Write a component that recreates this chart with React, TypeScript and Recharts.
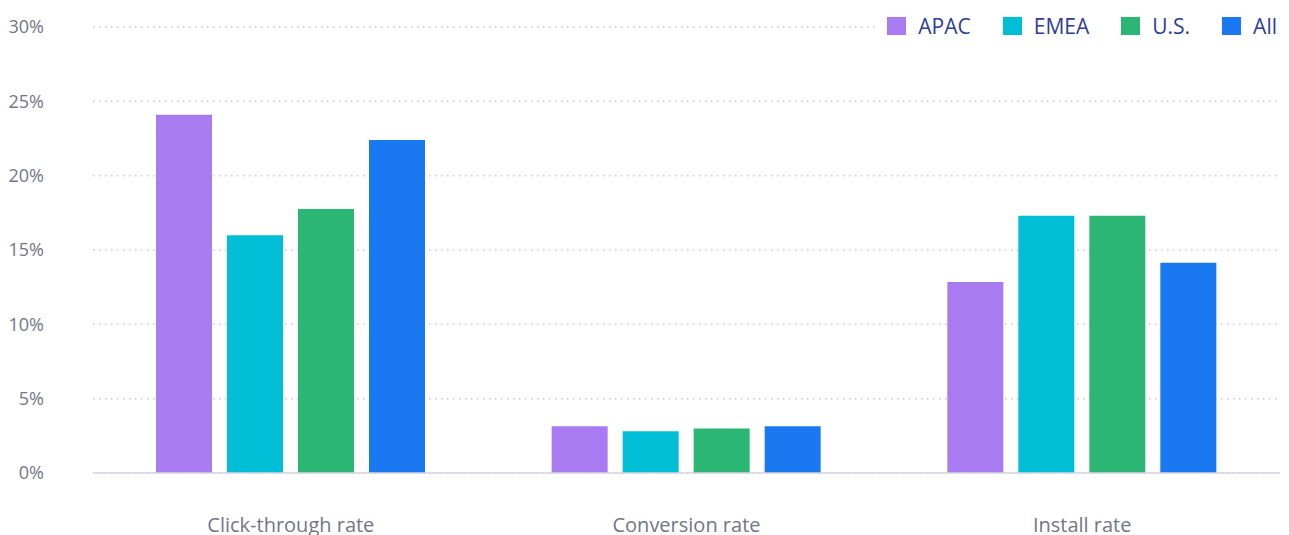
import React from "react";
import { BarChart, Bar, XAxis, YAxis, CartesianGrid } from "recharts";

const categories = ["Click-through rate", "Conversion rate", "Install rate"];
const apac = [24.1, 3.15, 12.85];
const emea = [16.0, 2.8, 17.3];
const us = [17.75, 3.0, 17.3];
const all = [22.4, 3.15, 14.15];
const yTicks = [0, 5, 10, 15, 20, 25, 30];

const seriesNames = ["APAC", "EMEA", "U.S.", "All"];
const seriesKeys = ["apac", "emea", "us", "all"];
const seriesColors = ["#a97bf0", "#00bed6", "#2bb673", "#1a78f0"];

const data = categories.map((c, i) => ({
  name: c,
  apac: apac[i],
  emea: emea[i],
  us: us[i],
  all: all[i],
}));

const FONT = "'Open Sans', sans-serif";

export default function App() {
  return (
    <div style={{ background: "#fff", position: "relative", width: 1289, height: 535 }}>
      <style>{`html,body{margin:0;padding:0;overflow:hidden;background:#fff}`}</style>
      <BarChart
        width={1289}
        height={535}
        data={data}
        margin={{ top: 27, right: 9, bottom: 0, left: 0 }}
        barGap={15}
        barSize={56}
      >
        <CartesianGrid
          vertical={false}
          stroke="#c9c9d2"
          strokeDasharray="1.5 4.5"
          strokeWidth={1.5}
        />
        <XAxis
          dataKey="name"
          axisLine={{ stroke: "#d6d4e2", strokeWidth: 1.5 }}
          tickLine={false}
          tickMargin={39}
          height={62}
          tick={{ fill: "#747588", fontSize: 20, fontFamily: FONT }}
        />
        <YAxis
          domain={[0, 30]}
          ticks={yTicks}
          width={93}
          axisLine={false}
          tickLine={false}
          tickMargin={43}
          tickFormatter={(v) => `${v}%`}
          tick={{ fill: "#747588", fontSize: 18, fontFamily: FONT }}
        />
        {seriesKeys.map((k, i) => (
          <Bar
            key={k}
            dataKey={k}
            name={seriesNames[i]}
            fill={seriesColors[i]}
            isAnimationActive={false}
          />
        ))}
      </BarChart>
      <div
        style={{
          position: "absolute",
          top: 15,
          right: 12,
          display: "flex",
          alignItems: "center",
          fontFamily: FONT,
          background: "#fff",
          paddingLeft: 10,
          whiteSpace: "nowrap",
        }}
      >
        {seriesNames.map((n, i) => (
          <div key={n} style={{ display: "flex", alignItems: "center", marginLeft: i === 0 ? 0 : 32, flexShrink: 0 }}>
            <div style={{ width: 19, height: 18, background: seriesColors[i], marginRight: 12, flexShrink: 0 }} />
            <span style={{ color: "#2e3d96", fontSize: 21, lineHeight: "22px" }}>{n}</span>
          </div>
        ))}
      </div>
    </div>
  );
}
